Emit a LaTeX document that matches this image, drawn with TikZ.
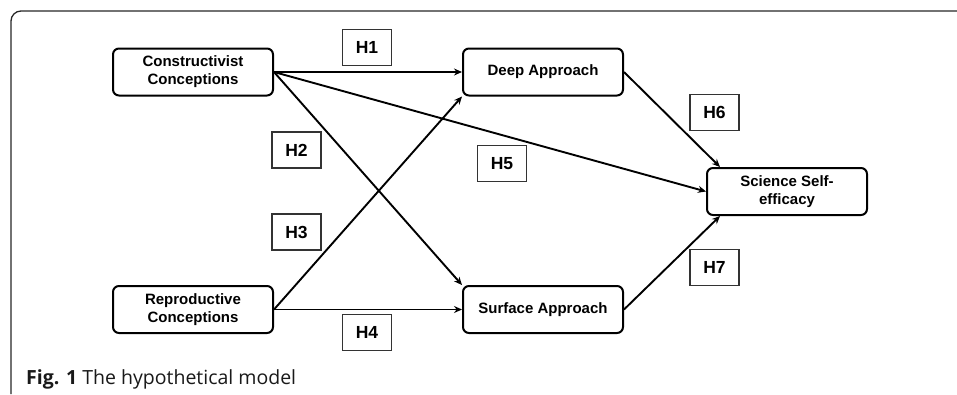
\documentclass[tikz,border=0pt]{standalone}
\usepackage{fontspec}
\setmainfont{Liberation Sans}
\newfontfamily\capfont{Open Sans}
\usetikzlibrary{arrows.meta}
\begin{document}
\begin{tikzpicture}[x=1pt,y=-1pt,
  varbox/.style={draw=black,line width=2pt,rounded corners=6pt,minimum width=160pt,minimum height=47pt,inner sep=0pt,align=center,font=\fontsize{15}{18}\selectfont\bfseries},
  hbox/.style={draw=black!80,line width=1.2pt,minimum width=49pt,minimum height=36pt,inner sep=0pt,font=\fontsize{17.5}{20}\selectfont\bfseries},
  conn/.style={line width=1.9pt,-{Stealth[length=8pt,width=7pt]}}]
\useasboundingbox (0,0) rectangle (957,394);
\draw[line width=1.3pt,black!85] (11,394) -- (11,21) arc[start angle=180,end angle=270,radius=10] -- (957,11);
\node[varbox] (con) at (193,72) {Constructivist\\Conceptions};
\node[varbox] (rep) at (193,309.5) {Reproductive\\Conceptions};
\node[varbox] (deep) at (543,72) {Deep Approach};
\node[varbox] (surf) at (543,309.5) {Surface Approach};
\node[varbox] (sci) at (787,191.5) {Science Self-\\efficacy};
\node[hbox] (h1) at (367,47.5) {H1};
\node[hbox] (h2) at (296.5,150) {H2};
\node[hbox] (h3) at (296.5,232) {H3};
\node[hbox] (h4) at (367,332.5) {H4};
\node[hbox] (h5) at (502,163.5) {H5};
\node[hbox] (h6) at (714.5,112.5) {H6};
\node[hbox] (h7) at (714.5,267.5) {H7};
\draw[conn] (con.east) -- (deep.west);
\draw[conn] (con.east) -- (surf.north west);
\draw[conn] (con.east) -- (sci.west);
\draw[conn] (rep.east) -- (deep.south west);
\draw[conn] (rep.east) -- (surf.west);
\draw[conn] (deep.east) -- ([xshift=14pt]sci.north west);
\draw[conn] (surf.east) -- ([xshift=14pt]sci.south west);
\node[anchor=base west,inner sep=0pt,font=\capfont\fontsize{19.5}{22}\selectfont,text=black!90] (cap) at (26,384) {\textbf{Fig. 1} The hypothetical model};
\end{tikzpicture}
\end{document}
